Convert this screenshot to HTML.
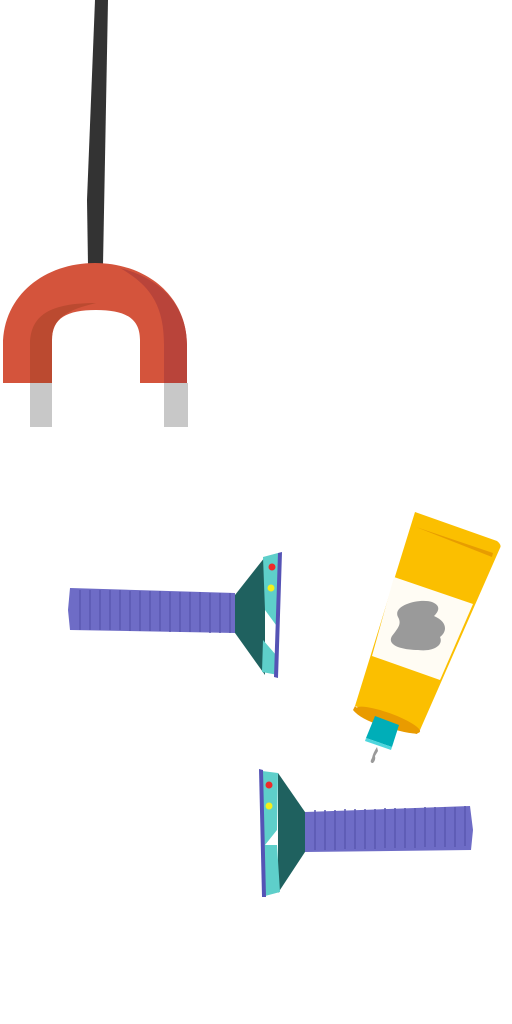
<!DOCTYPE html>
<html><head><meta charset="utf-8"><style>html,body{margin:0;padding:0;background:#fff;width:512px;height:1024px;overflow:hidden}</style></head>
<body>
<svg width="512" height="1024" viewBox="0 0 512 1024">
<g>
<path d="M95,0 L108,0 L103,265 L88,265 L87,200 Z" fill="#333"/>
</g>
<g>
<path d="M3,383 L3,345 C3,295 45,263 95,263 C145,263 187,295 187,345 L187,383 L140,383 L140,340 C140,318 125,310 96,310 C67,310 52,318 52,340 L52,383 Z" fill="#d4543c"/>
<path d="M120,268 C160,278 187,305 187,345 L187,383 L164,383 L164,345 C164,305 150,285 120,268 Z" fill="#b9443a"/>
<path d="M30,383 L30,345 C30,315 50,303 96,303 C67,310 52,318 52,340 L52,383 Z" fill="#bb4a30"/>
<rect x="30" y="383" width="22" height="44" fill="#c8c8c8"/>
<rect x="164" y="383" width="24" height="44" fill="#c8c8c8"/>
</g>
<g>
<path d="M70,588 L235,593 L235,633 L70,630 L68,610 Z" fill="#6e6cc6"/>
<g stroke="#5a58b0" stroke-width="1.5">
<path d="M80,590v40M90,590v40M100,590v40M110,590v40M120,590v40M130,591v40M140,591v40M150,591v40M160,591v40M170,592v40M180,592v40M190,592v40M200,592v40M210,593v40M220,593v40M230,593v40"/>
</g>
<path d="M235,595 L265,557 L265,675 L235,633 Z" fill="#1f615f"/>
<path d="M263,557 L278,553 L278,675 L262,672 L263,640 L276,655 L276,625 L265,610 Z" fill="#5ecfca"/>
<path d="M278,553 L282,552 L278,678 L274,677 Z" fill="#5553b5"/>
<circle cx="272" cy="567" r="3.5" fill="#ee2a2a"/>
<circle cx="271" cy="588" r="3.5" fill="#f5ef1a"/>
</g>
<g>
<path d="M305,812 L470,806 L473,830 L471,850 L305,852 Z" fill="#6e6cc6"/>
<g stroke="#5a58b0" stroke-width="1.5">
<path d="M315,810v40M325,810v40M335,810v40M345,809v40M355,809v40M365,809v40M375,809v40M385,808v40M395,808v40M405,808v40M415,808v40M425,807v40M435,807v40M445,807v40M455,807v40M465,806v40"/>
</g>
<path d="M305,812 L278,773 L278,893 L305,852 Z" fill="#1f615f"/>
<path d="M262,771 L278,773 L277,830 L265,845 L277,845 L280,892 L265,896 Z" fill="#5ecfca"/>
<path d="M259,769 L263,770 L266,897 L262,897 Z" fill="#5553b5"/>
<circle cx="269" cy="785" r="3.5" fill="#ee2a2a"/>
<circle cx="269" cy="806" r="3.5" fill="#f5ef1a"/>
</g>
<g>
<path d="M415,512 L497,541 Q502,545 500,548 L420,730 L355,706 Z" fill="#fbbf00"/>
<path d="M416,527 L493,553 L492,557 Z" fill="#e79d00"/>
<path d="M394,577 L473,604 L440,680 L372,656 Z" fill="#fffcf4"/>
<path d="M398,617 C392,605 420,598 432,602 C442,606 438,612 434,616 C448,622 447,632 440,637 C444,646 432,652 418,650 C404,650 386,646 392,636 C398,628 402,624 398,617 Z" fill="#9a9a9a"/>
<path d="M355,706 Q365,718 420,730 L417,734 Q365,725 353,710 Z" fill="#e99b00"/>
<ellipse cx="388" cy="720" rx="34" ry="7" transform="rotate(20 388 720)" fill="#e99b00"/>
<path d="M375,716 L399,725 L392,747 L366,738 Z" fill="#00aeb8"/>
<path d="M366,738 L392,747 L391,750 L365,741 Z" fill="#4fd6dd"/>
<path d="M377,747 Q373,753 372,758 Q369,763 373,763 Q376,760 375,756 L378,751 Z" fill="#9a9a9a"/>
</g>
</svg>
</body></html>
